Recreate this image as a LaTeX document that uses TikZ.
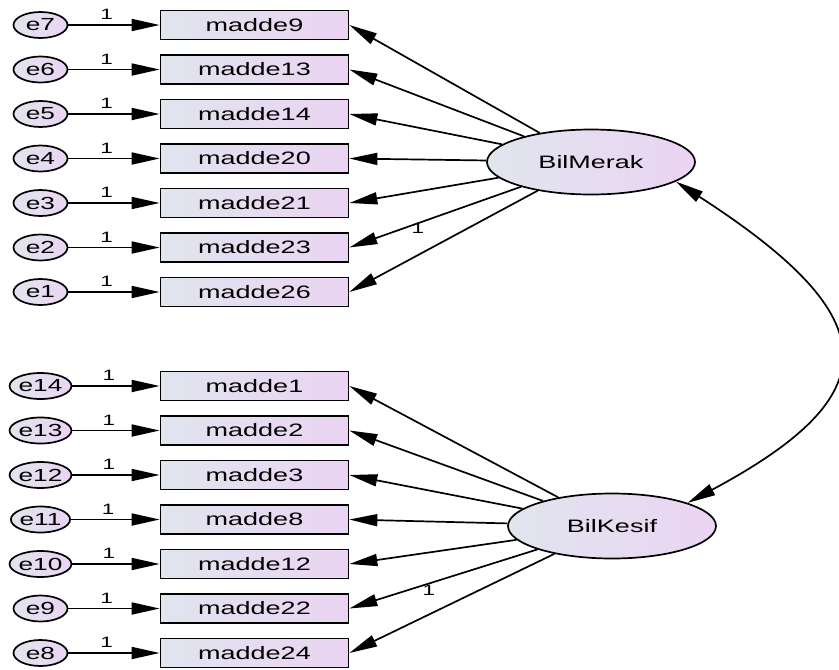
\documentclass[tikz,border=0pt]{standalone}
\usepackage{fontspec}
\setmainfont{Liberation Sans}[FakeStretch=1.5]
\usepackage{tikz}
\usetikzlibrary{arrows.meta,shapes.geometric}
\definecolor{paleblue}{RGB}{224,229,238}
\definecolor{palelilac}{RGB}{235,212,243}
\newcommand{\lw}{1.7pt}

\begin{document}
\begin{tikzpicture}[x=1pt,y=-1pt,
    obs/.style={draw, line width=\lw, left color=paleblue, right color=palelilac,
      minimum width=188pt, minimum height=29pt, inner sep=0pt,
      font=\fontsize{18}{20}\selectfont},
    err/.style={draw, ellipse, line width=\lw, left color=paleblue, right color=palelilac,
      minimum width=54pt, minimum height=26pt, inner sep=0pt,
      font=\fontsize{17.5}{18}\selectfont},
    lat/.style={draw, ellipse, line width=\lw, left color=paleblue, right color=palelilac,
      minimum width=208pt, minimum height=65pt, inner sep=0pt,
      font=\fontsize{18}{20}\selectfont},
    load/.style={line width=\lw, -{Triangle[length=28pt,width=12pt]}},
    one/.style={font=\fontsize{15}{16}\selectfont, inner sep=1.5pt}]
  \useasboundingbox (0,0) rectangle (839,670);

  % BilMerak block
  \node (e7) at (40.5,25)  [err] {e7};
  \node (e6) at (40.5,69.5)  [err] {e6};
  \node (e5) at (40.5,114)  [err] {e5};
  \node (e4) at (40.5,158.5)  [err] {e4};
  \node (e3) at (40.5,203)  [err] {e3};
  \node (e2) at (40.5,247.5)  [err] {e2};
  \node (e1) at (40.5,292)  [err] {e1};
  \node (m9) at (254.5,25)  [obs] {madde9};
  \node (m13) at (254.5,69.5)  [obs] {madde13};
  \node (m14) at (254.5,114)  [obs] {madde14};
  \node (m20) at (254.5,158.5)  [obs] {madde20};
  \node (m21) at (254.5,203)  [obs] {madde21};
  \node (m23) at (254.5,247.5)  [obs] {madde23};
  \node (m26) at (254.5,292)  [obs] {madde26};
  \node (merak) at (591,162)  [lat] {BilMerak};

  % BilKesif block
  \node (e14) at (40.5,386)  [err] {e14};
  \node (e13) at (40.5,430.5)  [err] {e13};
  \node (e12) at (40.5,475)  [err] {e12};
  \node (e11) at (40.5,519.5)  [err] {e11};
  \node (e10) at (40.5,564)  [err] {e10};
  \node (e9) at (40.5,608.5)  [err] {e9};
  \node (e8) at (40.5,653)  [err] {e8};
  \node (m1) at (254.5,386)  [obs] {madde1};
  \node (m2) at (254.5,430.5)  [obs] {madde2};
  \node (m3) at (254.5,475)  [obs] {madde3};
  \node (m8) at (254.5,519.5)  [obs] {madde8};
  \node (m12) at (254.5,564)  [obs] {madde12};
  \node (m22) at (254.5,608.5)  [obs] {madde22};
  \node (m24) at (254.5,653)  [obs] {madde24};
  \node (kesif) at (612,526)  [lat] {BilKesif};

  \draw[load] (e7) -- node[one, above=3pt, pos=.42] {1} (m9);
  \draw[load] (e6) -- node[one, above=3pt, pos=.42] {1} (m13);
  \draw[load] (e5) -- node[one, above=3pt, pos=.42] {1} (m14);
  \draw[load] (e4) -- node[one, above=3pt, pos=.42] {1} (m20);
  \draw[load] (e3) -- node[one, above=3pt, pos=.42] {1} (m21);
  \draw[load] (e2) -- node[one, above=3pt, pos=.42] {1} (m23);
  \draw[load] (e1) -- node[one, above=3pt, pos=.42] {1} (m26);
  \draw[load] (e14) -- node[one, above=3pt, pos=.42] {1} (m1);
  \draw[load] (e13) -- node[one, above=3pt, pos=.42] {1} (m2);
  \draw[load] (e12) -- node[one, above=3pt, pos=.42] {1} (m3);
  \draw[load] (e11) -- node[one, above=3pt, pos=.42] {1} (m8);
  \draw[load] (e10) -- node[one, above=3pt, pos=.42] {1} (m12);
  \draw[load] (e9) -- node[one, above=3pt, pos=.42] {1} (m22);
  \draw[load] (e8) -- node[one, above=3pt, pos=.42] {1} (m24);

  \draw[load] (merak) -- (m9.east);
  \draw[load] (merak) -- (m13.east);
  \draw[load] (merak) -- (m14.east);
  \draw[load] (merak) -- (m20.east);
  \draw[load] (merak) -- (m21.east);
  \draw[load] (merak) -- (m23.east);
  \draw[load] (merak) -- (m26.east);
  \draw[load] (kesif) -- (m1.east);
  \draw[load] (kesif) -- (m2.east);
  \draw[load] (kesif) -- (m3.east);
  \draw[load] (kesif) -- (m8.east);
  \draw[load] (kesif) -- (m12.east);
  \draw[load] (kesif) -- (m22.east);
  \draw[load] (kesif) -- (m24.east);
  \node (w26) at (418,228)  [one] {1};
  \node (w24) at (429,590)  [one] {1};

  % covariance
  \draw[line width=\lw, {Triangle[length=28pt,width=12pt]}-{Triangle[length=28pt,width=12pt]}]
    (merak.-13) .. controls (889,319) and (889,395) .. (kesif.17);
\end{tikzpicture}
\end{document}
